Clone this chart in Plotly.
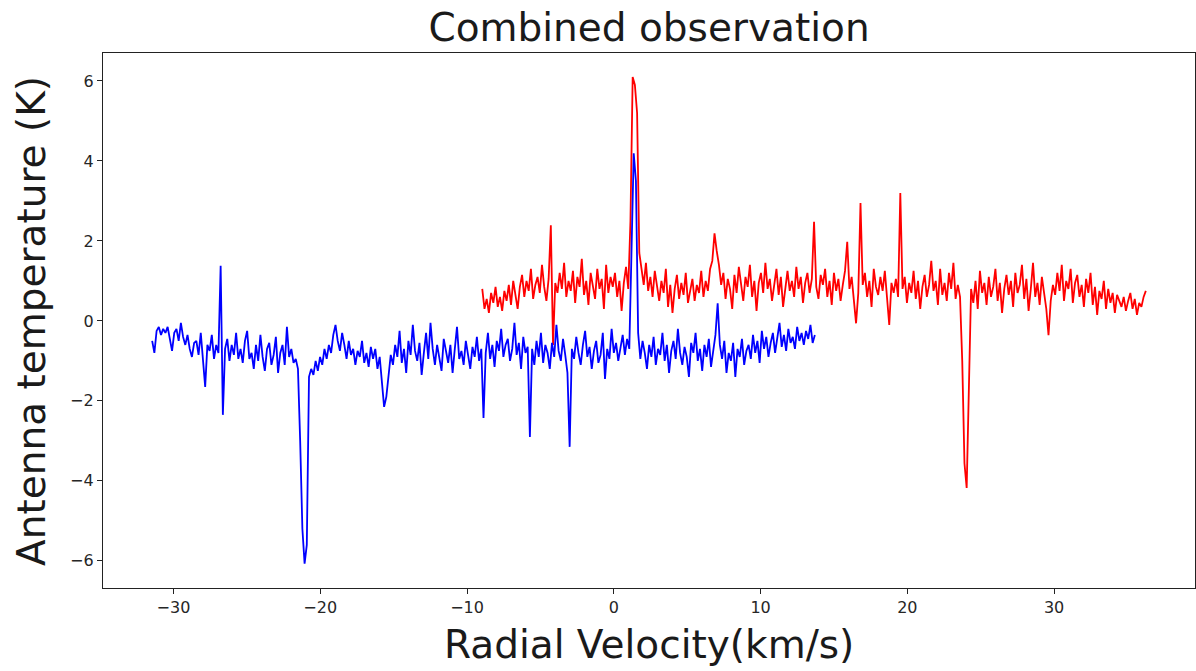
import numpy as np
import plotly.graph_objects as go

# Channel velocity grids (km/s): first channel, last channel, number of channels
blue_v_start, blue_v_end = -31.45, 13.7
red_v_start, red_v_end = -8.96, 36.25

# Antenna temperature (K)
blue_temp = [
    -0.5, -0.8, -0.25, -0.15, -0.35, -0.2, -0.3, -0.15, -0.45, -0.75,
    -0.3, -0.2, -0.5, -0.05, -0.4, -0.6, -0.35, -0.7, -0.9, -0.55,
    -0.5, -0.85, -0.3, -1.1, -1.65, -0.6, -0.75, -0.35, -0.95, -0.6,
    -0.8, 1.38, -2.35, -0.7, -0.45, -1.0, -0.6, -0.85, -0.3, -0.95,
    -0.7, -1.05, -0.5, -0.25, -0.95, -0.8, -1.2, -0.6, -1.0, -0.35,
    -0.9, -1.25, -0.7, -0.55, -1.1, -0.85, -0.4, -1.3, -0.8, -0.6,
    -1.1, -0.15, -0.9, -0.7, -1.05, -0.95, -1.2, -3.0, -5.2, -6.07,
    -5.6, -1.4, -1.2, -1.35, -1.0, -1.25, -0.9, -1.1, -0.7, -0.95,
    -0.6, -0.8, -0.35, -0.1, -0.5, -0.75, -0.3, -0.6, -0.95, -0.5,
    -0.85, -0.7, -1.1, -0.75, -0.9, -0.5, -1.05, -0.8, -1.15, -0.65,
    -0.95, -0.7, -1.2, -0.9, -1.5, -2.15, -1.9, -1.3, -0.85, -1.1,
    -0.6, -0.9, -0.25, -1.05, -0.7, -1.3, -0.5, -0.85, -0.1, -0.75,
    -1.0, -0.55, -1.35, -0.8, -0.3, -0.95, -0.05, -0.7, -1.1, -0.6,
    -0.9, -1.25, -0.45, -0.8, -1.05, -0.6, -1.3, -0.7, -0.15, -0.95,
    -0.75, -1.1, -0.5, -0.85, -1.2, -0.65, -0.9, -0.4, -1.0, -0.7,
    -2.43, -0.8, -0.3, -0.95, -0.6, -1.15, -0.5, -0.75, -0.2, -0.9,
    -0.6, -0.45, -1.0, -0.7, -0.05, -0.85, -0.55, -1.2, -0.4, -0.8,
    -0.65, -2.9, -0.7, -1.1, -0.5, -0.9, -0.3, -1.05, -0.6, -0.8,
    -1.2, -0.55, -0.9, -0.1, -0.75, -1.0, -0.45, -0.85, -1.3, -3.15,
    -0.7, -0.95, -0.4, -0.8, -1.1, -0.6, -0.25, -0.9, -0.65, -1.2,
    -0.75, -0.5, -1.05, -0.85, -0.3, -1.45, -0.7, -0.95, -0.2, -0.8,
    -0.55, -1.0, -0.65, -0.35, -0.85, -0.45, -0.7, 1.5, 4.19, 3.5,
    -0.3, -0.95, -0.5, -0.8, -1.2, -0.6, -0.9, -0.4, -1.1, -0.7,
    -0.85, -0.3, -1.0, -0.6, -1.3, -0.75, -0.5, -0.95, -0.2, -0.8,
    -1.1, -0.65, -0.9, -1.4, -0.55, -0.8, -0.3, -1.0, -0.7, -1.25,
    -0.6, -0.9, -0.45, -1.15, -0.75, -0.35, 0.44, -0.6, -0.95, -0.5,
    -1.3, -0.8, -1.0, -0.55, -1.4, -0.7, -0.9, -0.45, -1.1, -0.75,
    -0.6, -0.95, -0.35, -0.8, -0.5, -1.05, -0.25, -0.7, -0.4, -0.9,
    -0.55, -0.3, -0.8, -0.45, -0.05, -0.65, -0.35, -0.75, -0.2, -0.55,
    -0.4, -0.7, -0.15, -0.5, -0.3, -0.6, -0.25, -0.45, -0.1, -0.55, -0.35,
]

red_temp = [
    0.8, 0.3, 0.55, 0.2, 0.7, 0.45, 0.85, 0.35, 0.6, 0.25,
    0.75, 0.5, 0.9, 0.4, 1.0, 0.65, 0.3, 0.85, 1.15, 0.6,
    1.0, 0.75, 1.3, 0.55, 0.9, 1.1, 0.7, 1.4, 0.85, 0.5,
    1.05, 2.39, -0.6, 0.95, 0.7, 1.2, 0.8, 1.45, 0.6, 1.0,
    0.75, 1.25, 0.45, 1.1, 0.85, 1.55, 0.65, 1.0, 0.4, 1.2,
    0.9, 0.55, 1.3, 0.8, 1.05, 0.3, 1.4, 0.7, 1.1, 0.85,
    1.2, 0.6, 1.0, 0.25, 0.95, 1.35, 0.8, 2.5, 6.1, 5.9,
    5.2, 1.7, 1.3, 0.9, 1.45, 0.75, 1.1, 0.6, 1.25, 0.85,
    0.5, 1.0, 0.7, 1.3, 0.35, 0.9, 0.2, 0.8, 1.15, 0.55,
    0.95, 0.65, 1.2, 0.45, 0.8, 1.05, 0.5, 0.9, 0.7, 1.25,
    0.6, 1.0, 0.75, 1.3, 1.5, 2.19, 1.75, 1.4, 0.9, 1.2,
    0.55, 1.05, 0.8, 0.3, 1.15, 0.7, 1.35, 0.9, 0.5, 1.1,
    0.85, 1.4, 0.6, 1.0, 0.25, 0.95, 1.2, 0.7, 1.45, 0.8,
    1.05, 0.5, 0.9, 1.3, 0.65, 1.1, 0.35, 0.85, 1.25, 0.75,
    1.0, 0.6, 1.35, 0.8, 1.1, 0.45, 0.95, 1.2, 0.7, 1.05,
    2.48, 0.85, 0.55, 1.15, 0.9, 1.3, 0.6, 1.0, 0.4, 1.2,
    0.75, 1.05, 0.5, 0.9, 1.25, 1.98, 0.8, 1.1, 0.45, -0.06,
    0.7, 2.95, 0.9, 1.2, 0.6, 1.0, 0.35, 1.3, 0.85, 0.65,
    1.1, 0.75, 1.25, 0.5, -0.1, 0.95, 0.7, 1.05, 0.6, 3.2,
    0.8, 1.1, 0.45, 0.95, 0.7, 1.25, 0.55, 1.0, 0.3, 0.85,
    1.15, 0.6, 0.9, 1.5, 0.75, 1.0, 0.4, 1.3, 0.65, 0.95,
    0.5, 1.2, 0.8, 1.45, 0.55, 0.9, 0.6, -1.0, -3.56, -4.18,
    -1.8, 0.8, 0.45, 1.0, 0.3, 1.25, 0.7, 0.95, 0.4, 1.1,
    0.6, 0.85, 1.3, 0.5, 0.95, 0.2, 0.8, 1.15, 0.65, 1.0,
    0.35, 1.2, 0.7, 0.9, 1.4, 0.55, 1.05, 0.25, 0.8, 1.45,
    0.6, 0.95, 0.4, 1.1, 0.7, 0.3, -0.36, 0.5, 0.9, 0.65,
    1.2, 0.75, 1.4, 0.5, 1.0, 0.8, 1.3, 0.45, 0.95, 1.15,
    0.6, 0.9, 0.35, 1.05, 0.7, 1.2, 0.4, 0.85, 0.15, 0.75,
    0.55, 1.0, 0.3, 0.8, 0.45, 0.7, 0.2, 0.65, 0.5, 0.35,
    0.6, 0.25, 0.5, 0.7, 0.3, 0.55, 0.15, 0.45, 0.35, 0.6, 0.75,
]

x_tick_vals = [-30, -20, -10, 0, 10, 20, 30]
x_tick_text = ["\u221230", "\u221220", "\u221210", "0", "10", "20", "30"]
y_tick_vals = [-6, -4, -2, 0, 2, 4, 6]
y_tick_text = ["\u22126", "\u22124", "\u22122", "0", "2", "4", "6"]

blue_v = np.linspace(blue_v_start, blue_v_end, len(blue_temp))
red_v = np.linspace(red_v_start, red_v_end, len(red_temp))

FONT = "DejaVu Sans"
LABEL_SIZE = 39

fig = go.Figure()
fig.add_trace(go.Scatter(x=red_v, y=red_temp, mode="lines",
                         line=dict(color="red", width=1.8), showlegend=False))
fig.add_trace(go.Scatter(x=blue_v, y=blue_temp, mode="lines",
                         line=dict(color="blue", width=1.8), showlegend=False))

axis_common = dict(showline=True, linecolor="#222", linewidth=1.3, mirror=True,
                   ticks="outside", ticklen=5, tickwidth=1.2, tickcolor="#222",
                   showgrid=False, zeroline=False,
                   tickfont=dict(family=FONT, size=16, color="#262626"))

fig.update_layout(
    width=1196, height=671,
    margin=dict(l=103, r=1, t=53, b=83),
    paper_bgcolor="white", plot_bgcolor="white",
    title=dict(text="Combined observation", x=0.5, xref="paper",
               y=1 - 27 / 671, yref="container", yanchor="middle", xanchor="center",
               font=dict(family=FONT, size=LABEL_SIZE, color="#1a1a1a")),
    xaxis=dict(range=[-34.8, 39.6], tickvals=x_tick_vals, ticktext=x_tick_text, **axis_common),
    yaxis=dict(range=[-6.68, 6.7], tickvals=y_tick_vals, ticktext=y_tick_text, **axis_common),
    annotations=[
        dict(text="Radial Velocity(km/s)", x=0.5, y=-0.1065, xref="paper", yref="paper",
             xanchor="center", yanchor="middle", showarrow=False,
             font=dict(family=FONT, size=LABEL_SIZE, color="#1a1a1a")),
        dict(text="Antenna temperature (K)", x=-0.0655, y=0.5, xref="paper", yref="paper",
             xanchor="center", yanchor="middle", textangle=-90, showarrow=False,
             font=dict(family=FONT, size=LABEL_SIZE, color="#1a1a1a")),
    ],
)

fig.write_html("out.html")
